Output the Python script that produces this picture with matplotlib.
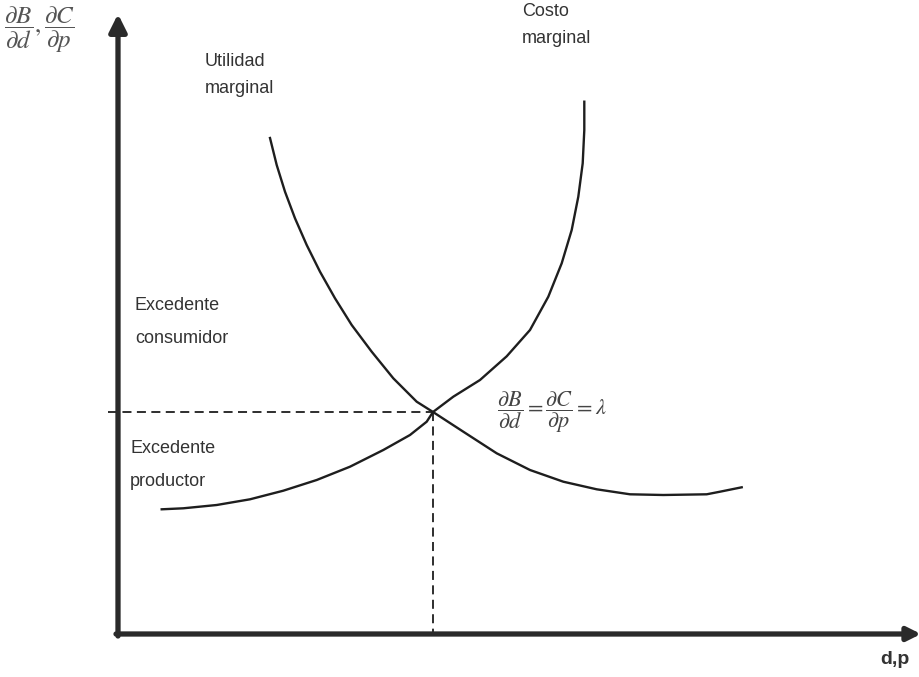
import matplotlib
matplotlib.use("Agg")
import matplotlib.pyplot as plt

plt.rcParams['font.family'] = ['Liberation Sans', 'DejaVu Sans']
plt.rcParams['mathtext.fontset'] = 'stix'

# curve points (origin at the axis corner)
util_x = [152, 158.7, 167, 177, 188.7, 202, 217, 233.7, 253.7, 275.3, 298.7, 315,
          345.3, 378.7, 412, 445.3, 478.7, 512, 545.3, 588.7, 602, 623.7]
util_y = [496, 469, 442.3, 415.7, 389, 362.3, 335.7, 309, 282.3, 255.7, 232.3, 222,
          202.3, 180.7, 164, 152.3, 144.7, 139.7, 139, 139.7, 142.3, 146.7]

cost_x = [43.7, 65.3, 98.7, 132, 165.3, 198.7, 232, 265.3, 292, 308.7, 315,
          335.3, 362, 388.7, 412, 430.3, 443.7, 453.7, 460.3, 464.7, 466.3, 466.3]
cost_y = [124.7, 125.7, 129, 134.7, 143.3, 154, 167.3, 184, 199, 212.3, 222,
          237.3, 254, 277.7, 304, 337.3, 370.7, 404, 437.3, 470.7, 504, 532.3]

eq_x = 315
eq_y = 222

text_color = '#333333'

fig = plt.figure(figsize=(9.2, 6.77), dpi=100)
ax = fig.add_axes([0, 0, 1, 1])
ax.set_xlim(-118, 802)
ax.set_ylim(-43, 634)
ax.axis('off')

# axes with arrows
ax.annotate('', xy=(0, 620), xytext=(0, -2), annotation_clip=False,
            arrowprops=dict(arrowstyle='-|>', lw=3.8, color='#2a2a2a',
                            mutation_scale=26, shrinkA=0, shrinkB=0))
ax.annotate('', xy=(803, 0), xytext=(-2, 0), annotation_clip=False,
            arrowprops=dict(arrowstyle='-|>', lw=3.8, color='#2a2a2a',
                            mutation_scale=20, shrinkA=0, shrinkB=0))

# curves
ax.plot(util_x, util_y, color='#1e1e1e', lw=1.7, solid_joinstyle='round')
ax.plot(cost_x, cost_y, color='#1e1e1e', lw=1.7, solid_joinstyle='round')

# dashed guide lines
ax.plot([-10, eq_x], [eq_y, eq_y], color='#1e1e1e', lw=1.3, ls=(0, (5, 3)))
ax.plot([eq_x, eq_x], [eq_y, 0], color='#1e1e1e', lw=1.3, ls=(0, (5, 3)))

# labels
ax.text(-114, 604, r'$\dfrac{\partial B}{\partial d},\dfrac{\partial C}{\partial p}$',
        fontsize=18, color='#555555', va='center', ha='left')
ax.text(87, 559, 'Utilidad\nmarginal', fontsize=13, color=text_color,
        va='center', ha='left', linespacing=1.8)
ax.text(404, 609, 'Costo\nmarginal', fontsize=13, color=text_color,
        va='center', ha='left', linespacing=1.8)
ax.text(17, 312, 'Excedente\nconsumidor', fontsize=13, color=text_color,
        va='center', ha='left', linespacing=2.3)
ax.text(12, 169, 'Excedente\nproductor', fontsize=13, color=text_color,
        va='center', ha='left', linespacing=2.3)
ax.text(379, 222, r'$\dfrac{\partial B}{\partial d}=\dfrac{\partial C}{\partial p}=\lambda$',
        fontsize=16, color='#444444', va='center', ha='left')
ax.text(762, -26, 'd,p', fontsize=14, color=text_color, fontweight='bold',
        va='center', ha='left')

fig.savefig('out.png', dpi=100)
